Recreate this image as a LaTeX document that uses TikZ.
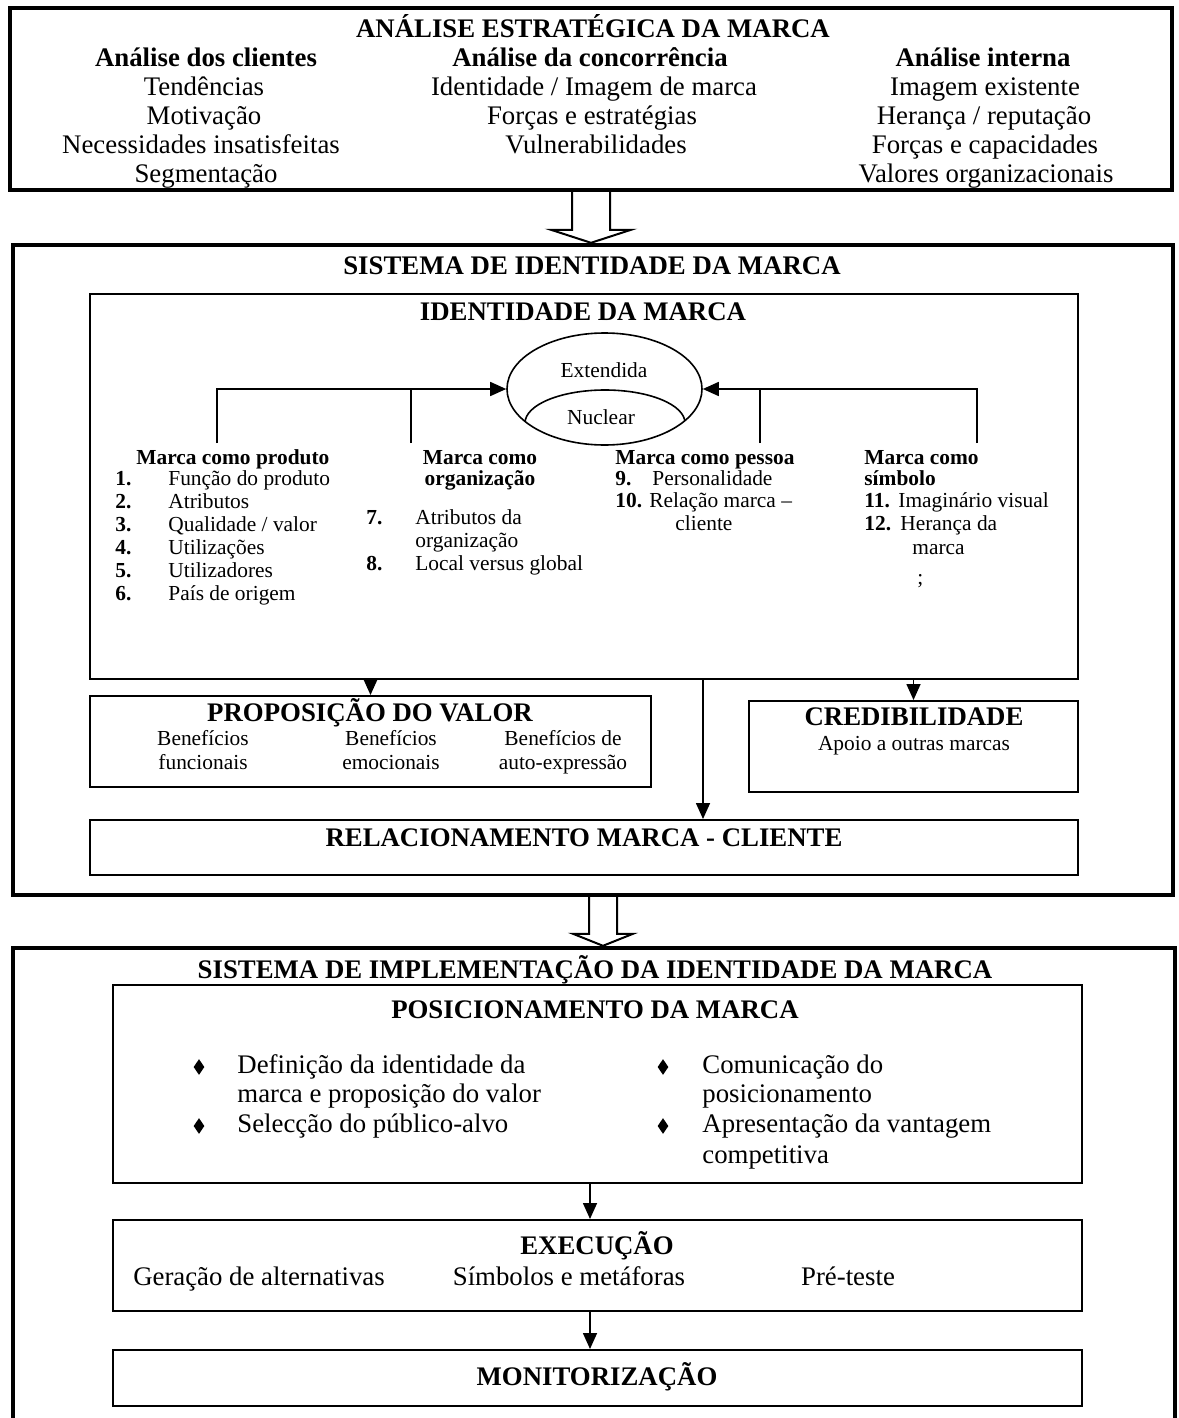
\documentclass[tikz,border=0pt]{standalone}
\usepackage{fontspec}
\setmainfont{Liberation Serif}
\usetikzlibrary{shapes.geometric,arrows.meta,calc}
\begin{document}
\begin{tikzpicture}[x=0.5pt,y=-0.5pt,
  big/.style={font=\fontsize{13.4}{14.5}\selectfont, inner sep=0pt, anchor=mid, yshift=-2pt},
  bigb/.style={font=\fontsize{13.4}{14.5}\selectfont\bfseries, inner sep=0pt, anchor=mid, yshift=-2pt},
  sm/.style={font=\fontsize{10.7}{11.5}\selectfont, inner sep=0pt, anchor=mid, yshift=-1.5pt},
  smb/.style={font=\fontsize{10.7}{11.5}\selectfont\bfseries, inner sep=0pt, anchor=mid, yshift=-1.5pt},
  lft/.style={anchor=mid west},
  outerbox/.style={draw, line width=2.2pt, inner sep=0pt},
  innerbox/.style={draw, line width=1pt, inner sep=0pt},
  link/.style={line width=0.8pt},
  arr/.style={line width=0.8pt, -{Triangle[length=8pt,width=7pt]}},
  hollow/.style={line width=1pt, line join=miter},
  bullet/.style={diamond, fill, inner sep=0pt, minimum width=5.5pt, minimum height=8pt},
]
\fill[white] (0,0) rectangle (1178,1418);
\useasboundingbox (0,0) rectangle (1178,1418);
\clip (0,0) rectangle (1178,1418);

% ---------- frames ----------
\node[outerbox, minimum width=581pt, minimum height=91pt] (box1) at (591,99) {};
\node[outerbox, minimum width=580pt, minimum height=325pt] (box2) at (593,570) {};
\node[outerbox, minimum width=581pt, minimum height=246pt] (box3) at (594,1194) {};

\node[innerbox, minimum width=494pt, minimum height=192.5pt] (idbox) at (584,486.5) {};
\node[innerbox, minimum width=280.5pt, minimum height=45.5pt] (propbox) at (370.5,741.5) {};
\node[innerbox, minimum width=164.5pt, minimum height=45.5pt] (credbox) at (913.5,746.5) {};
\node[innerbox, minimum width=494pt, minimum height=27.5pt] (relbox) at (584,847.5) {};
\node[innerbox, minimum width=484.5pt, minimum height=99pt] (posbox) at (597.5,1084) {};
\node[innerbox, minimum width=484.5pt, minimum height=45.5pt] (execbox) at (597.5,1265.5) {};
\node[innerbox, minimum width=484.5pt, minimum height=28pt] (monbox) at (597.5,1378) {};

% ---------- hollow arrows between the three systems ----------
\coordinate (ha1) at (591,0);
\coordinate (ha2) at (603,0);
\draw[hollow] ($(box1.south -| ha1)+(-19,0)$) -- ($(box2.north -| ha1)+(-19,-13)$) -- ++(-21,0)
  -- (box2.north -| ha1) -- ($(box2.north -| ha1)+(40,-13)$) -- ++(-21,0) -- ($(box1.south -| ha1)+(19,0)$);
\draw[hollow] ($(box2.south -| ha2)+(-14,0)$) -- ($(box3.north -| ha2)+(-14,-12)$) -- ++(-16,0)
  -- (box3.north -| ha2) -- ($(box3.north -| ha2)+(30,-12)$) -- ++(-16,0) -- ($(box2.south -| ha2)+(14,0)$);

% ---------- ANÁLISE ESTRATÉGICA ----------
\node[bigb] (tae) at (593,29) {ANÁLISE ESTRATÉGICA DA MARCA};
\node[bigb] (hcli) at (206,58) {Análise dos clientes};
\node[bigb] (hcon) at (590,58) {Análise da concorrência};
\node[bigb] (hint) at (983,58) {Análise interna};
\node[big] (c11) at (204,87) {Tendências};
\node[big] (c12) at (204,116) {Motivação};
\node[big] (c13) at (201,145) {Necessidades insatisfeitas};
\node[big] (c14) at (206,174) {Segmentação};
\node[big] (c21) at (594,87) {Identidade / Imagem de marca};
\node[big] (c22) at (592,116) {Forças e estratégias};
\node[big] (c23) at (596,145) {Vulnerabilidades};
\node[big] (c31) at (985,87) {Imagem existente};
\node[big] (c32) at (984,116) {Herança / reputação};
\node[big] (c33) at (985,145) {Forças e capacidades};
\node[big] (c34) at (986,174) {Valores organizacionais};

% ---------- SISTEMA DE IDENTIDADE ----------
\node[bigb] (tsid) at (592,266) {SISTEMA DE IDENTIDADE DA MARCA};
\node[bigb] (tid) at (583,312) {IDENTIDADE DA MARCA};

\node[draw, ellipse, line width=0.8pt, minimum width=97.5pt, minimum height=56pt, inner sep=0pt] (ext) at (604.5,389) {};
\begin{scope}
  \clip (604.5,389) ellipse [x radius=48.75pt, y radius=28pt];
  \draw[line width=0.8pt] (605,423) ellipse [x radius=40pt, y radius=16.5pt];
\end{scope}
\node[sm] (text) at (604,370) {Extendida};
\node[sm] (tnuc) at (601,417) {Nuclear};

\coordinate (b1) at (217,443);
\coordinate (b2) at (411,443);
\coordinate (b3) at (760,443);
\coordinate (b4) at (977,443);
\draw[arr] (b1) |- (ext.west);
\draw[link] (b2) -- (b2 |- ext.west);
\draw[arr] (b4) |- (ext.east);
\draw[link] (b3) -- (b3 |- ext.east);

% brand as product
\node[smb, lft] (hprod) at (136,457) {Marca como produto};
\node[smb, lft] (n1) at (115,478) {1.};
\node[smb, lft] (n2) at (115,501) {2.};
\node[smb, lft] (n3) at (115,524) {3.};
\node[smb, lft] (n4) at (115,547) {4.};
\node[smb, lft] (n5) at (115,570) {5.};
\node[smb, lft] (n6) at (115,593) {6.};
\node[sm, lft] (i1) at (168,478) {Função do produto};
\node[sm, lft] (i2) at (168,501) {Atributos};
\node[sm, lft] (i3) at (168,524) {Qualidade / valor};
\node[sm, lft] (i4) at (168,547) {Utilizações};
\node[sm, lft] (i5) at (168,570) {Utilizadores};
\node[sm, lft] (i6) at (168,593) {País de origem};

% brand as organisation
\node[smb] (horg1) at (480,457) {Marca como};
\node[smb] (horg2) at (480,478) {organização};
\node[smb, lft] (n7) at (366,517) {7.};
\node[sm, lft] (i7a) at (415,517) {Atributos da};
\node[sm, lft] (i7b) at (415,540) {organização};
\node[smb, lft] (n8) at (366,563) {8.};
\node[sm, lft] (i8) at (415,563) {Local versus global};

% brand as person
\node[smb, lft] (hpes) at (615,457) {Marca como pessoa};
\node[smb, lft] (n9) at (615,478) {9.};
\node[sm, lft] (i9) at (652,478) {Personalidade};
\node[smb, lft] (n10) at (615,500) {10.};
\node[sm, lft] (i10a) at (649,500) {Relação marca –};
\node[sm, lft] (i10b) at (675,523) {cliente};

% brand as symbol
\node[smb, lft] (hsim1) at (864,457) {Marca como};
\node[smb, lft] (hsim2) at (864,478) {símbolo};
\node[smb, lft] (n11) at (864,500) {11.};
\node[sm, lft] (i11) at (898,500) {Imaginário visual};
\node[smb, lft] (n12) at (864,523) {12.};
\node[sm, lft] (i12a) at (900,523) {Herança da};
\node[sm, lft] (i12b) at (912,547) {marca};
\node[sm, lft] (semi) at (917,577) {;};

% value proposition, credibility, relationship
\coordinate (ma) at (703,0);
\draw[arr] (idbox.south -| propbox.north) -- (propbox.north);
\draw[arr] (idbox.south -| credbox.north) -- (credbox.north);
\draw[arr] (idbox.south -| ma) -- (relbox.north -| ma);

\node[bigb] (tprop) at (370,713) {PROPOSIÇÃO DO VALOR};
\node[sm] (p1a) at (203,738) {Benefícios};
\node[sm] (p1b) at (203,762) {funcionais};
\node[sm] (p2a) at (391,738) {Benefícios};
\node[sm] (p2b) at (391,762) {emocionais};
\node[sm] (p3a) at (563,738) {Benefícios de};
\node[sm] (p3b) at (563,762) {auto-expressão};

\node[bigb] (tcred) at (914,717) {CREDIBILIDADE};
\node[sm] (cred1) at (914,743) {Apoio a outras marcas};

\node[bigb] (trel) at (584,838) {RELACIONAMENTO MARCA - CLIENTE};

% ---------- SISTEMA DE IMPLEMENTAÇÃO ----------
\node[bigb] (timp) at (595,970) {SISTEMA DE IMPLEMENTAÇÃO DA IDENTIDADE DA MARCA};
\node[bigb] (tpos) at (595,1010) {POSICIONAMENTO DA MARCA};
\node[bullet] (d1) at (199,1067) {};
\node[bullet] (d2) at (199,1126) {};
\node[bullet] (d3) at (663,1067) {};
\node[bullet] (d4) at (663,1126) {};
\node[big, lft] (pl1) at (237,1065) {Definição da identidade da};
\node[big, lft] (pl2) at (237,1094) {marca e proposição do valor};
\node[big, lft] (pl3) at (237,1124) {Selecção do público-alvo};
\node[big, lft] (pr1) at (702,1065) {Comunicação do};
\node[big, lft] (pr2) at (702,1094) {posicionamento};
\node[big, lft] (pr3) at (702,1124) {Apresentação da vantagem};
\node[big, lft] (pr4) at (702,1155) {competitiva};

\coordinate (pa) at (590,0);
\draw[arr] (posbox.south -| pa) -- (execbox.north -| pa);
\draw[arr] (execbox.south -| pa) -- (monbox.north -| pa);

\node[bigb] (texec) at (597,1246) {EXECUÇÃO};
\node[big] (e1) at (259,1277) {Geração de alternativas};
\node[big] (e2) at (569,1277) {Símbolos e metáforas};
\node[big] (e3) at (848,1277) {Pré-teste};

\node[bigb] (tmon) at (597,1377) {MONITORIZAÇÃO};
\end{tikzpicture}
\end{document}
